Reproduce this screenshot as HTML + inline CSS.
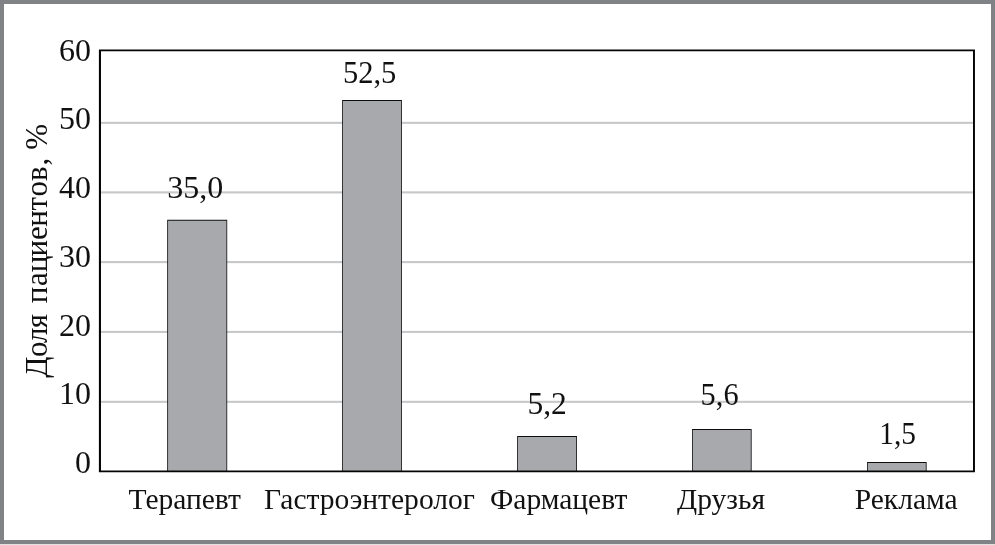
<!DOCTYPE html>
<html lang="ru">
<head>
<meta charset="utf-8">
<title>Доля пациентов</title>
<style>
  html, body { margin: 0; padding: 0; background: #ffffff; }
  body { width: 995px; height: 545px; overflow: hidden; position: relative; }
  svg { position: absolute; left: 0; top: 0; display: block; }
  .txt { opacity: 0.999; }
  text { font-family: "Liberation Serif", serif; fill: #111111; }
  .num { font-size: 32px; }
  .cat { font-size: 28.8px; }
  .ttl { font-size: 31px; }
</style>
</head>
<body>
<svg width="995" height="545" viewBox="0 0 995 545">
  <!-- page -->
  <rect x="0" y="0" width="995" height="545" fill="#ffffff"/>

  <!-- outer gray frame -->
  <rect x="0" y="0" width="995" height="4" fill="#808285"/>
  <rect x="0" y="0" width="4" height="545" fill="#808285"/>
  <rect x="991" y="0" width="4" height="545" fill="#808285"/>
  <rect x="0" y="540" width="995" height="4" fill="#808285"/>
  <rect x="0" y="544" width="995" height="1" fill="#e2e2e3"/>

  <!-- grid lines -->
  <g fill="#c6c7c9">
    <rect x="101" y="121.8" width="872" height="2.1"/>
    <rect x="101" y="191.35" width="872" height="2.1"/>
    <rect x="101" y="261.05" width="872" height="2.1"/>
    <rect x="101" y="330.9" width="872" height="2.05"/>
    <rect x="101" y="400.8" width="872" height="2.05"/>
  </g>

  <!-- bars -->
  <g fill="#a7a9ac">
    <rect x="167.65" y="220.30" width="59.15" height="251.20"/>
    <rect x="342.55" y="100.50" width="58.95" height="371.00"/>
    <rect x="517.60" y="436.40" width="59.00" height="35.10"/>
    <rect x="692.50" y="429.45" width="58.70" height="42.05"/>
    <rect x="867.50" y="462.45" width="58.70" height="9.05"/>
  </g>
  <path fill="#0d0d0d" fill-rule="evenodd" d="M167.25 219.80H227.20V471.5H167.25Z M168.05 220.80H226.40V471.5H168.05Z M342.15 100.00H401.90V471.5H342.15Z M342.95 101.00H401.10V471.5H342.95Z M517.20 435.90H577.00V471.5H517.20Z M518.00 436.90H576.20V471.5H518.00Z M692.10 428.95H751.60V471.5H692.10Z M692.90 429.95H750.80V471.5H692.90Z M867.10 461.95H926.60V471.5H867.10Z M867.90 462.95H925.80V471.5H867.90Z"/>

  <!-- plot frame -->
  <path fill="#050505" fill-rule="evenodd" d="M98.9 49.5H974.95V472.3H98.9Z M101 51.18H973V470.6H101Z"/>

  <g class="txt">
  <!-- y tick labels -->
  <g class="num" text-anchor="end">
    <text x="90.9" y="61.2">60</text>
    <text x="90.9" y="129.2">50</text>
    <text x="90.9" y="198.2">40</text>
    <text x="90.9" y="267">30</text>
    <text x="90.9" y="336">20</text>
    <text x="90.9" y="404">10</text>
    <text x="90.9" y="473.3">0</text>
  </g>

  <!-- value labels -->
  <g class="num" text-anchor="middle">
    <text transform="translate(195.2 198)">35,0</text>
    <text transform="translate(369.6 83) scale(0.955 1)">52,5</text>
    <text transform="translate(547.1 413.6) scale(0.985 1)">5,2</text>
    <text transform="translate(719.6 405.1) scale(0.95 1)">5,6</text>
    <text transform="translate(897.6 444) scale(0.92 1)">1,5</text>
  </g>

  <!-- category labels -->
  <g class="cat">
    <text transform="translate(128.5 508.8) scale(1.025 1)">Терапевт</text>
    <text transform="translate(264 508.8) scale(1.025 1)">Гастроэнтеролог</text>
    <text transform="translate(490 508.8) scale(1.025 1)">Фармацевт</text>
    <text transform="translate(677 508.8) scale(1.025 1)">Друзья</text>
    <text transform="translate(854.7 508.8) scale(1.025 1)">Реклама</text>
  </g>

  <!-- y axis title -->
  <text class="ttl" transform="translate(46.6 378) rotate(-90)" x="0.2 21.0 34.9 49.7 64.0 74.8 92.1 105.8 121.6 138.0 151.2 167.6 181.4 197.0 212.5 220.3 228.3">Доля пациентов, %</text>
  </g>
</svg>
</body>
</html>
